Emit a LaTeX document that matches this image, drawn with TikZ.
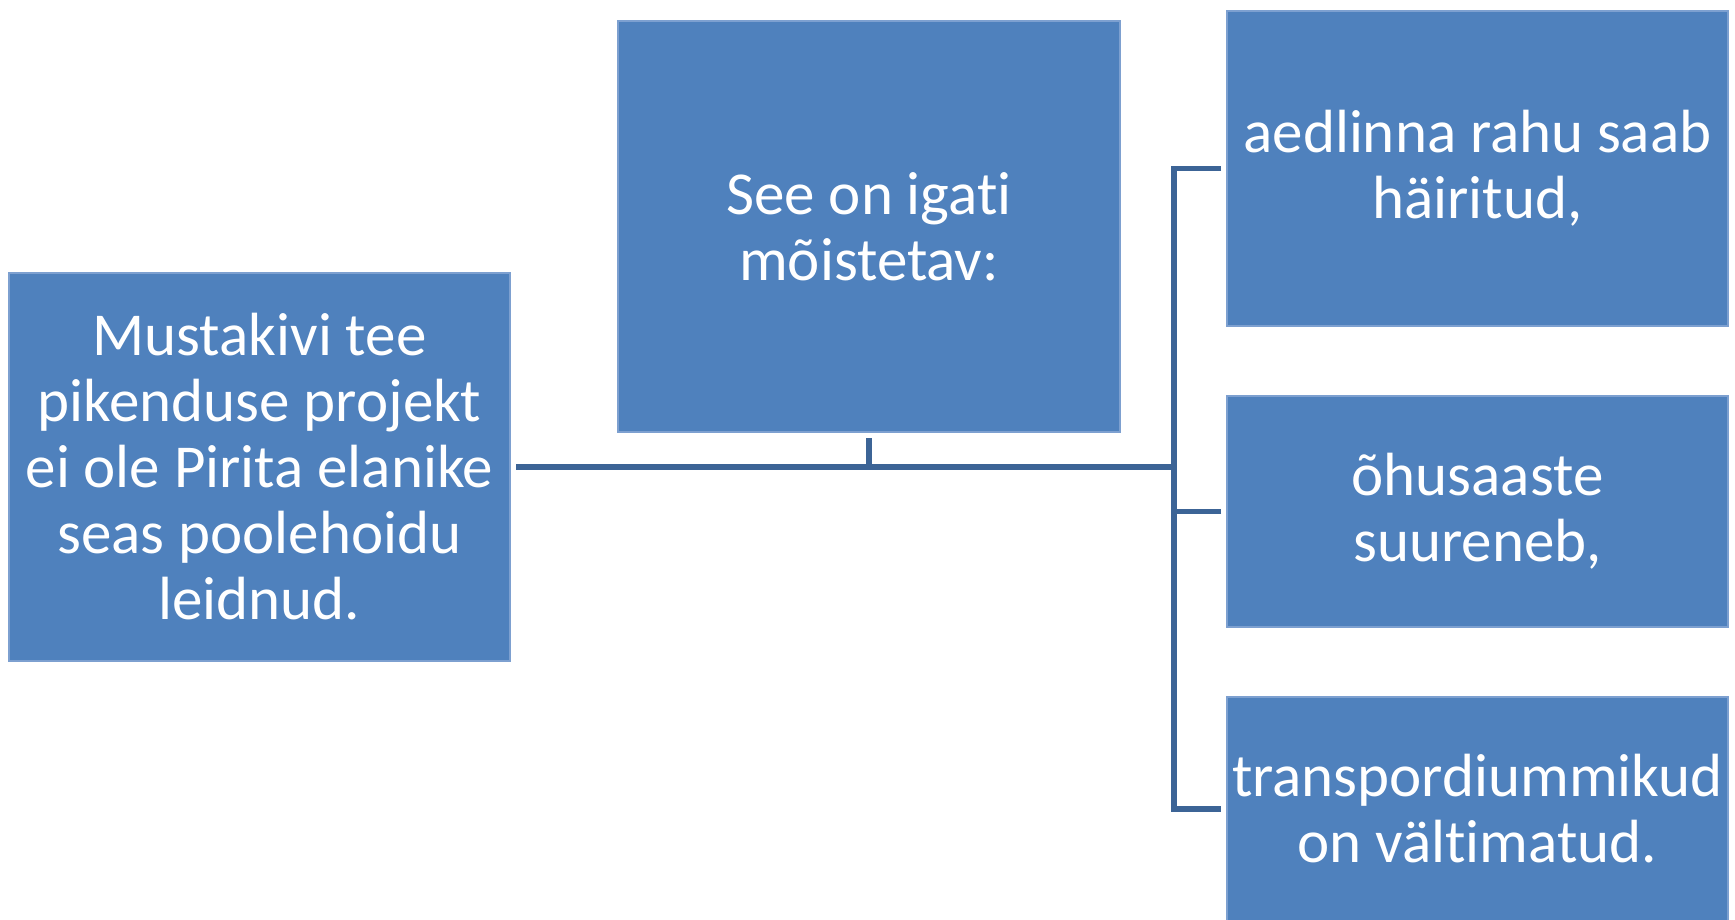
\documentclass[tikz,border=0pt]{standalone}
\usepackage{fontspec}
\setmainfont{Carlito}[Ligatures={NoCommon}]
\usepackage{tikz}
\usetikzlibrary{calc}

\definecolor{boxblue}{RGB}{79,129,189}
\definecolor{boxedge}{RGB}{125,160,208}
\definecolor{linkblue}{RGB}{60,100,150}

\tikzset{
  box/.style={rectangle, fill=boxblue, draw=boxedge, line width=0.6pt,
    inner sep=0pt, outer sep=3pt, align=center, text=white,
    font=\fontsize{30.5}{33}\selectfont},
  link/.style={draw=linkblue, line width=2.85pt, line join=miter}
}

\begin{document}
\begin{tikzpicture}[x=0.5pt, y=-0.5pt]
                \useasboundingbox (0,0) rectangle (1735,920);
                % Boxes
                \node[box, minimum width=250.5pt, minimum height=194pt] (main) at (259.5,467) {Mustakivi tee\\pikenduse projekt\\ei ole Pirita elanike\\seas poolehoidu\\leidnud.};
                \node[box, minimum width=251pt, minimum height=205.5pt] (mid) at (869,226.5) {See on igati\\mõistetav:};
                \node[box, minimum width=250.5pt, minimum height=157.5pt] (r1) at (1477.5,168.5) {aedlinna rahu saab\\häiritud,};
                \node[box, minimum width=250.5pt, minimum height=115.5pt] (r2) at (1477.5,511.5) {õhusaaste\\suureneb,};
                \node[box, minimum width=250.5pt, minimum height=112pt] (r3) at (1477.5,809) {transpordiummikud\\on vältimatud.};

                % Connectors
                \coordinate (spine) at (1174,467);
                \draw[link] (main.east) -- (spine);
                \draw[link] (mid.south) -- (mid.south |- spine);
                \draw[link] (r1.west) -| (spine) |- (r3.west);
                \draw[link] (r2.west) -- (r2.west -| spine);
            \end{tikzpicture}
\end{document}
